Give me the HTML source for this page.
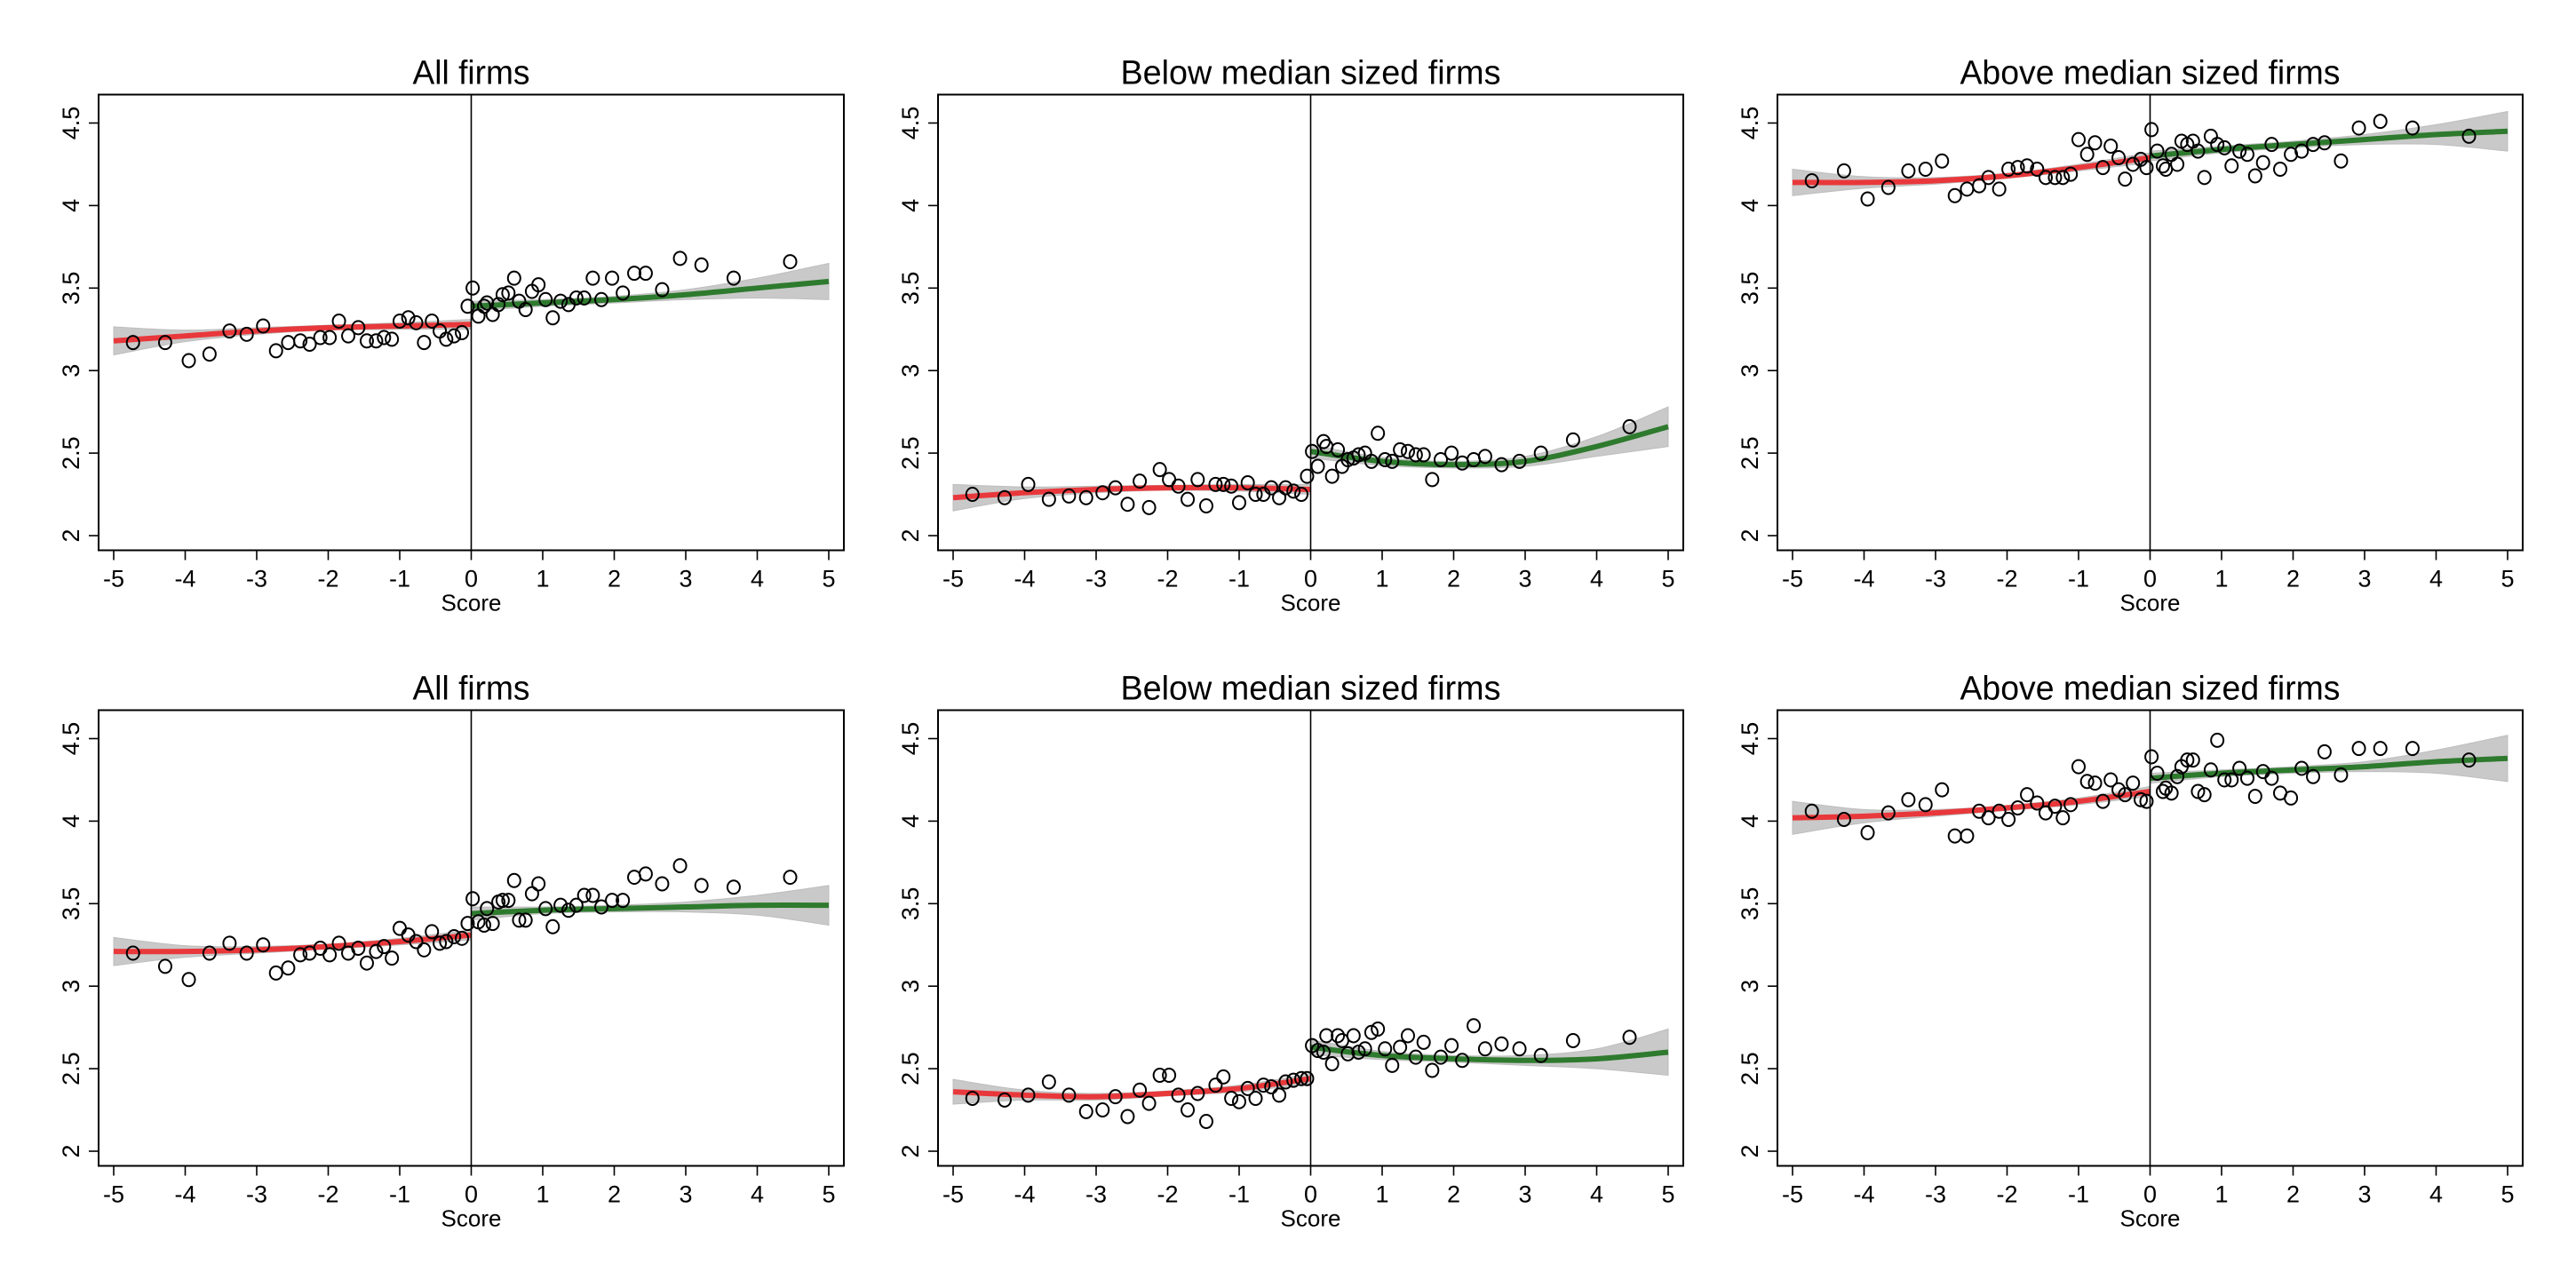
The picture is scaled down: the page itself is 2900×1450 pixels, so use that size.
<!DOCTYPE html>
<html><head><meta charset="utf-8"><style>
html,body{margin:0;padding:0;background:#fff;}
svg{display:block;}
text{font-family:"Liberation Sans",Arial,sans-serif;fill:#000;}
</style></head><body>
<svg id="chart" width="2900" height="1450" viewBox="0 0 2900 1450" xmlns="http://www.w3.org/2000/svg">
<rect x="0" y="0" width="2900" height="1450" fill="#fff"/>
</svg>
<script>
const xBins = [-4.73,-4.28,-3.95,-3.66,-3.38,-3.14,-2.91,-2.73,-2.56,-2.39,-2.26,-2.11,-1.98,-1.85,-1.72,-1.58,-1.46,-1.33,-1.22,-1.11,-1.00,-0.88,-0.77,-0.66,-0.55,-0.44,-0.35,-0.24,-0.13,-0.05,0.02,0.10,0.18,0.22,0.30,0.38,0.44,0.52,0.60,0.67,0.76,0.85,0.94,1.04,1.14,1.25,1.36,1.47,1.58,1.70,1.82,1.97,2.12,2.28,2.44,2.67,2.92,3.22,3.67,4.46];
const xTicks = [-5,-4,-3,-2,-1,0,1,2,3,4,5];
const yTicks = [2,2.5,3,3.5,4,4.5];
const yTickLabels = ["2","2.5","3","3.5","4","4.5"];
const titles = ["All firms","Below median sized firms","Above median sized firms","All firms","Below median sized firms","Above median sized firms"];
const fitXLeft = [-5,-4,-3,-2,-1,0];
const fitXRight = [0,1,2,3,4,5];

const pts1 = [3.17,3.17,3.06,3.10,3.24,3.22,3.27,3.12,3.17,3.18,3.16,3.20,3.20,3.30,3.21,3.26,3.18,3.18,3.20,3.19,3.30,3.32,3.29,3.17,3.30,3.24,3.19,3.21,3.23,3.39,3.50,3.33,3.39,3.41,3.34,3.40,3.46,3.47,3.56,3.42,3.37,3.48,3.52,3.43,3.32,3.42,3.40,3.44,3.44,3.56,3.43,3.56,3.47,3.59,3.59,3.49,3.68,3.64,3.56,3.66];
const pts2 = [2.25,2.23,2.31,2.22,2.24,2.23,2.26,2.29,2.19,2.33,2.17,2.40,2.34,2.30,2.22,2.34,2.18,2.31,2.31,2.30,2.20,2.32,2.25,2.25,2.29,2.23,2.29,2.27,2.25,2.36,2.51,2.42,2.57,2.54,2.36,2.52,2.42,2.46,2.47,2.49,2.50,2.45,2.62,2.46,2.45,2.52,2.51,2.49,2.49,2.34,2.46,2.50,2.44,2.46,2.48,2.43,2.45,2.50,2.58,2.66];
const pts3 = [4.15,4.21,4.04,4.11,4.21,4.22,4.27,4.06,4.10,4.12,4.17,4.10,4.22,4.23,4.24,4.22,4.17,4.17,4.17,4.19,4.40,4.31,4.38,4.23,4.36,4.29,4.16,4.25,4.28,4.23,4.46,4.33,4.24,4.22,4.31,4.25,4.39,4.37,4.39,4.33,4.17,4.42,4.37,4.35,4.24,4.33,4.31,4.18,4.26,4.37,4.22,4.31,4.33,4.37,4.38,4.27,4.47,4.51,4.47,4.42];
const pts4 = [3.20,3.12,3.04,3.20,3.26,3.20,3.25,3.08,3.11,3.19,3.20,3.23,3.19,3.26,3.20,3.23,3.14,3.21,3.24,3.17,3.35,3.31,3.27,3.22,3.33,3.26,3.27,3.30,3.29,3.38,3.53,3.39,3.37,3.47,3.38,3.51,3.52,3.52,3.64,3.40,3.40,3.56,3.62,3.47,3.36,3.49,3.46,3.49,3.55,3.55,3.48,3.52,3.52,3.66,3.68,3.62,3.73,3.61,3.60,3.66];
const pts5 = [2.32,2.31,2.34,2.42,2.34,2.24,2.25,2.33,2.21,2.37,2.29,2.46,2.46,2.34,2.25,2.35,2.18,2.40,2.45,2.32,2.30,2.38,2.32,2.40,2.39,2.34,2.42,2.43,2.44,2.44,2.64,2.61,2.60,2.70,2.53,2.70,2.67,2.59,2.70,2.60,2.62,2.72,2.74,2.62,2.52,2.63,2.70,2.57,2.66,2.49,2.57,2.64,2.55,2.76,2.62,2.65,2.62,2.58,2.67,2.69];
const pts6 = [4.06,4.01,3.93,4.05,4.13,4.10,4.19,3.91,3.91,4.06,4.02,4.06,4.01,4.08,4.16,4.11,4.05,4.09,4.02,4.10,4.33,4.24,4.23,4.12,4.25,4.19,4.16,4.23,4.13,4.12,4.39,4.29,4.18,4.20,4.17,4.27,4.33,4.37,4.37,4.18,4.16,4.31,4.49,4.25,4.25,4.32,4.26,4.15,4.30,4.26,4.17,4.14,4.32,4.27,4.42,4.28,4.44,4.44,4.44,4.37];

const redFit1 = [3.18,3.21,3.24,3.26,3.27,3.28];
const greenFit1 = [3.39,3.41,3.43,3.46,3.50,3.54];
const redFit2 = [2.23,2.26,2.28,2.29,2.29,2.28];
const greenFit2 = [2.51,2.45,2.43,2.45,2.54,2.66];
const redFit3 = [4.14,4.14,4.15,4.18,4.23,4.29];
const greenFit3 = [4.30,4.34,4.37,4.40,4.43,4.45];
const redFit4 = [3.21,3.21,3.22,3.24,3.27,3.31];
const greenFit4 = [3.44,3.46,3.47,3.48,3.49,3.49];
const redFit5 = [2.36,2.34,2.33,2.35,2.38,2.44];
const greenFit5 = [2.63,2.58,2.56,2.55,2.56,2.60];
const redFit6 = [4.02,4.03,4.05,4.08,4.12,4.18];
const greenFit6 = [4.26,4.29,4.31,4.33,4.36,4.38];

const redCI1 = [0.085,0.035,0.02,0.015,0.02,0.03];
const greenCI1 = [0.03,0.02,0.02,0.03,0.06,0.11];
const redCI2 = [0.08,0.035,0.02,0.015,0.02,0.03];
const greenCI2 = [0.04,0.025,0.02,0.03,0.06,0.12];
const redCI3 = [0.08,0.035,0.02,0.015,0.02,0.03];
const greenCI3 = [0.03,0.02,0.02,0.03,0.06,0.12];
const redCI4 = [0.085,0.035,0.02,0.015,0.02,0.03];
const greenCI4 = [0.04,0.02,0.02,0.03,0.06,0.12];
const redCI5 = [0.075,0.03,0.02,0.015,0.02,0.03];
const greenCI5 = [0.045,0.025,0.02,0.03,0.06,0.14];
const redCI6 = [0.10,0.04,0.02,0.015,0.02,0.03];
const greenCI6 = [0.03,0.02,0.02,0.03,0.07,0.14];

const allPts = [pts1,pts2,pts3,pts4,pts5,pts6];
const allRed = [redFit1,redFit2,redFit3,redFit4,redFit5,redFit6];
const allGreen = [greenFit1,greenFit2,greenFit3,greenFit4,greenFit5,greenFit6];
const allRedCI = [redCI1,redCI2,redCI3,redCI4,redCI5,redCI6];
const allGreenCI = [greenCI1,greenCI2,greenCI3,greenCI4,greenCI5,greenCI6];

const NS = "http://www.w3.org/2000/svg";
const svg = document.getElementById('chart');
function mk(tag, attrs, parent) {
  const e = document.createElementNS(NS, tag);
  for (const k in attrs) e.setAttribute(k, attrs[k]);
  parent.appendChild(e);
  return e;
}
function smooth(p) {
  let d = "M" + p[0][0] + "," + p[0][1];
  for (let i = 0; i < p.length - 1; i++) {
    const p0 = p[Math.max(0, i - 1)], p1 = p[i], p2 = p[i + 1], p3 = p[Math.min(p.length - 1, i + 2)];
    const c1x = p1[0] + (p2[0] - p0[0]) / 6, c1y = p1[1] + (p2[1] - p0[1]) / 6;
    const c2x = p2[0] - (p3[0] - p1[0]) / 6, c2y = p2[1] - (p3[1] - p1[1]) / 6;
    d += " C" + c1x + "," + c1y + " " + c2x + "," + c2y + " " + p2[0] + "," + p2[1];
  }
  return d;
}
function smoothCont(p) {
  return smooth(p).replace(/^M/, "L");
}

for (let k = 0; k < 6; k++) {
  const col = k % 3, row = Math.floor(k / 3);
  const L = 111 + 945 * col, T = 106.5 + 693 * row, W = 839, H = 513;
  const B = T + H;
  const sx = v => L + 17 + (v + 5) * 80.5;
  const sy = v => T + 32 + (4.5 - v) * 185.8;
  const g = mk('g', {}, svg);
  
  

  const title = mk('text', {x: L + W / 2, y: T - 12, 'font-size': 38, 'text-anchor': 'middle', textLength: k % 3 === 0 ? 132 : 428, lengthAdjust: 'spacingAndGlyphs'}, g);
  title.textContent = titles[k];
  
  

  // CI bands
  const fits = [[fitXLeft, allRed[k], allRedCI[k], '#e8383b', 'red-fit'], [fitXRight, allGreen[k], allGreenCI[k], '#2e7a2e', 'green-fit']];
  fits.forEach(f => {
    const xs = f[0], ys = f[1], hw = f[2];
    const up = xs.map((x, i) => [sx(x), sy(ys[i] + hw[i])]);
    const lo = xs.map((x, i) => [sx(x), sy(ys[i] - hw[i])]).reverse();
    const band = mk('path', {d: smooth(up) + " " + smoothCont(lo) + " Z", fill: '#c9c9c9', stroke: '#bdbdbd', 'stroke-width': 1}, g);
    
    
  });
  fits.forEach(f => {
    const xs = f[0], ys = f[1];
    const line = mk('path', {d: smooth(xs.map((x, i) => [sx(x), sy(ys[i])])), fill: 'none', stroke: f[3], 'stroke-width': 6}, g);
    
    
  });

  // cutoff line
  const cut = mk('line', {x1: sx(0), x2: sx(0), y1: T, y2: B, stroke: '#000', 'stroke-width': 1.6}, g);
  
  

  // points
  const pts = allPts[k];
  xBins.forEach((x, i) => {
    const c = mk('ellipse', {cx: sx(x), cy: sy(pts[i]), rx: 7, ry: 7.5, fill: 'none', stroke: '#000', 'stroke-width': 2}, g);
    
    
  });

  // frame
  const frame = mk('rect', {x: L, y: T, width: W, height: H, fill: 'none', stroke: '#000', 'stroke-width': 2}, g);
  
  

  // x ticks
  xTicks.forEach(t => {
    const tk = mk('line', {x1: sx(t), x2: sx(t), y1: B, y2: B + 11, stroke: '#000', 'stroke-width': 1.6}, g);
    
    
    const lb = mk('text', {x: sx(t), y: B + 41, 'font-size': 27, 'text-anchor': 'middle'}, g);
    lb.textContent = String(t);
    
    
  });
  const xt = mk('text', {x: sx(0), y: B + 68, 'font-size': 26, 'text-anchor': 'middle'}, g);
  xt.textContent = 'Score';
  
  

  // y ticks
  yTicks.forEach((t, i) => {
    const tk = mk('line', {x1: L - 11, x2: L, y1: sy(t), y2: sy(t), stroke: '#000', 'stroke-width': 1.6}, g);
    
    
    const lx = L - 22, ly = sy(t);
    const lb = mk('text', {x: lx, y: ly, 'font-size': 27, 'text-anchor': 'middle', transform: 'rotate(-90 ' + lx + ' ' + ly + ')'}, g);
    lb.textContent = yTickLabels[i];
    
    
  });
}
</script>
</body></html>
